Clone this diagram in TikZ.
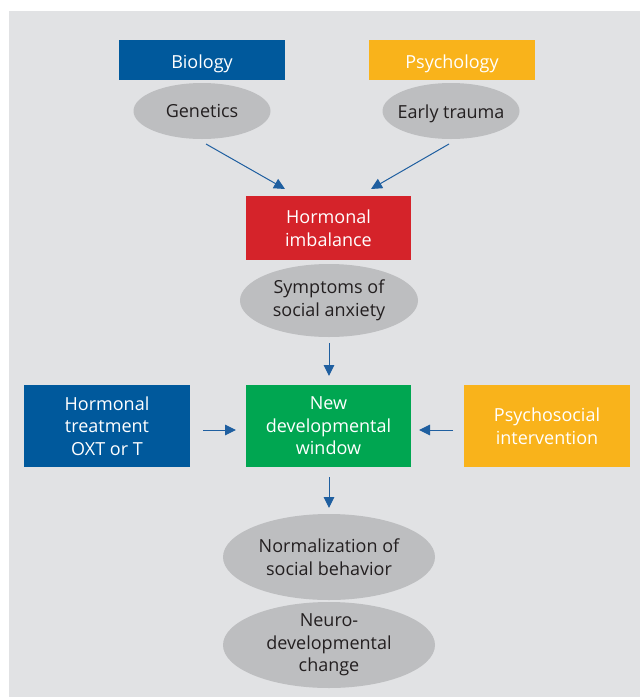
\documentclass[tikz,border=0pt]{standalone}
\usepackage{fontspec}
\setmainfont{Open Sans}
\usetikzlibrary{arrows.meta,shapes.geometric}
\definecolor{bgray}{HTML}{E1E2E4}
\definecolor{egray}{HTML}{BDBEC0}
\definecolor{fblue}{HTML}{00599C}
\definecolor{forange}{HTML}{F9B31B}
\definecolor{fred}{HTML}{D5232A}
\definecolor{fgreen}{HTML}{00A651}
\definecolor{ftext}{HTML}{231F20}
\definecolor{arr}{HTML}{1F5FA0}
\newcommand{\lowr}[1]{\raisebox{-3.5pt}[\height][\depth]{#1}}
\tikzset{
  boxnode/.style={rectangle,inner sep=0pt,text=white,align=center,font=\fontsize{18}{22.5}\selectfont},
  ellnode/.style={ellipse,fill=egray,inner sep=-6pt,text=ftext,align=center,font=\fontsize{18}{22.5}\selectfont},
  conn/.style={draw=arr,line width=1pt,-{Triangle[length=11pt,width=10.5pt]}}
}
\begin{document}
\begin{tikzpicture}[x=1pt,y=-1pt]
\useasboundingbox (0,0) rectangle (640,697);
\fill[white] (0,0) rectangle (640,697);
\fill[bgray] (9,11) rectangle (640,697);
\node[boxnode,fill=fblue,minimum width=166pt,minimum height=40pt] (bio) at (202,60) {\lowr{Biology}};
\node[ellnode,minimum width=137pt,minimum height=56pt] (gen) at (202,111) {Genetics};
\node[boxnode,fill=forange,minimum width=166pt,minimum height=40pt] (psy) at (452,60) {\lowr{Psychology}};
\node[ellnode,minimum width=137pt,minimum height=56pt] (trau) at (451,111) {\raisebox{-2.5pt}[\height][\depth]{Early trauma}};
\node[boxnode,fill=fred,minimum width=165pt,minimum height=64pt] (horm) at (328.5,228) {Hormonal\\imbalance};
\node[ellnode,minimum width=178pt,minimum height=73pt] (symp) at (329,300.5) {Symptoms of\\social anxiety};
\node[boxnode,fill=fgreen,minimum width=165pt,minimum height=82pt] (win) at (328.5,426) {New\\developmental\\window};
\node[boxnode,fill=fblue,minimum width=166pt,minimum height=82pt] (treat) at (107,426) {Hormonal\\treatment\\OXT or T};
\node[boxnode,fill=forange,minimum width=166pt,minimum height=82pt] (psi) at (547,426) {Psychosocial\\intervention};
\node[ellnode,minimum width=212pt,minimum height=86pt] (norm) at (329,557) {Normalization of\\social behavior};
\node[ellnode,minimum width=212pt,minimum height=86pt] (neuro) at (329,645) {Neuro-\\developmental\\change};
\coordinate (a1s) at (206,144); \coordinate (a1e) at (285,189);
\coordinate (a2s) at (449,144); \coordinate (a2e) at (371,189);
\draw[conn] (a1s) -- (a1e);
\draw[conn] (a2s) -- (a2e);
\coordinate (a3s) at (329,343); \coordinate (a3e) at (329,376);
\draw[conn] (a3s) -- (a3e);
\coordinate (a4s) at (203,430); \coordinate (a4e) at (236,430);
\draw[conn] (a4s) -- (a4e);
\coordinate (a5s) at (453,430); \coordinate (a5e) at (419,430);
\draw[conn] (a5s) -- (a5e);
\coordinate (a6s) at (329,477); \coordinate (a6e) at (329,508);
\draw[conn] (a6s) -- (a6e);
\end{tikzpicture}
\end{document}
